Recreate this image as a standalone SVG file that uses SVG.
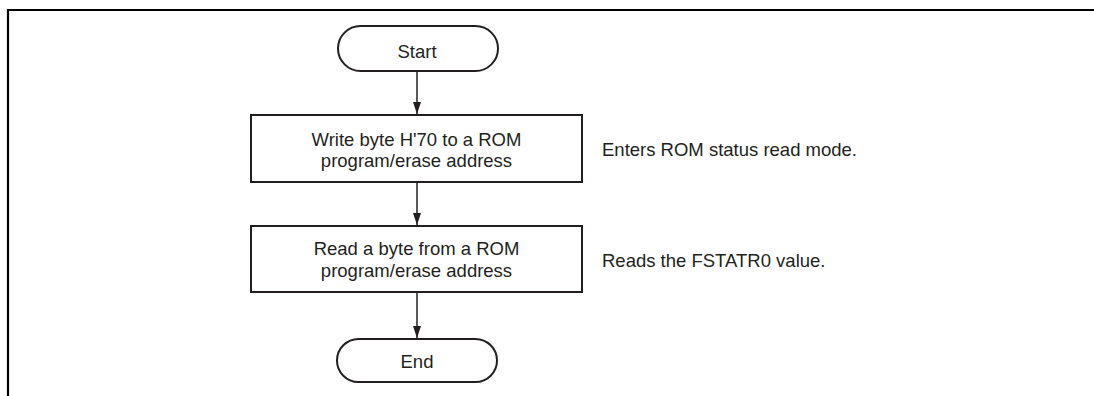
<svg xmlns="http://www.w3.org/2000/svg" width="1094" height="396" viewBox="0 0 1094 396">
<style>
.shape{fill:#fff;stroke:#231f20;stroke-width:2}
.t{font-family:"Liberation Sans",Arial,sans-serif;font-size:18.5px;fill:#231f20}
.c{text-anchor:middle}
.conn{stroke:#231f20;stroke-width:1.5;fill:none}
</style>
<defs>
<marker id="arr" markerWidth="12" markerHeight="8" refX="12" refY="4" orient="auto" markerUnits="userSpaceOnUse">
<path d="M0,0 L12,4 L0,8 Z" fill="#231f20"/>
</marker>
</defs>
<path d="M8,396 V10 H1094" fill="none" stroke="#000" stroke-width="2.2"/>
<g id="connectors">
<line class="conn" x1="417" y1="71" x2="417" y2="114" marker-end="url(#arr)"/>
<line class="conn" x1="417" y1="182" x2="417" y2="225" marker-end="url(#arr)"/>
<line class="conn" x1="417" y1="292" x2="417" y2="338" marker-end="url(#arr)"/>
</g>
<g id="start">
<rect class="shape" x="338" y="26" width="160" height="45" rx="22.5"/>
<text class="t c" x="417" y="58">Start</text>
</g>
<g id="write">
<rect class="shape" x="251" y="115" width="331" height="67"/>
<text class="t c" x="416.5" y="146">Write byte H'70 to a ROM</text>
<text class="t c" x="416.5" y="167">program/erase address</text>
</g>
<g id="note1">
<text class="t" x="602" y="156">Enters ROM status read mode.</text>
</g>
<g id="read">
<rect class="shape" x="251" y="226" width="331" height="66"/>
<text class="t c" x="416.5" y="255">Read a byte from a ROM</text>
<text class="t c" x="416.5" y="276.5">program/erase address</text>
</g>
<g id="note2">
<text class="t" x="602" y="267">Reads the FSTATR0 value.</text>
</g>
<g id="end">
<rect class="shape" x="337" y="339" width="160" height="43" rx="21.5"/>
<text class="t c" x="417" y="367.5">End</text>
</g>
</svg>
